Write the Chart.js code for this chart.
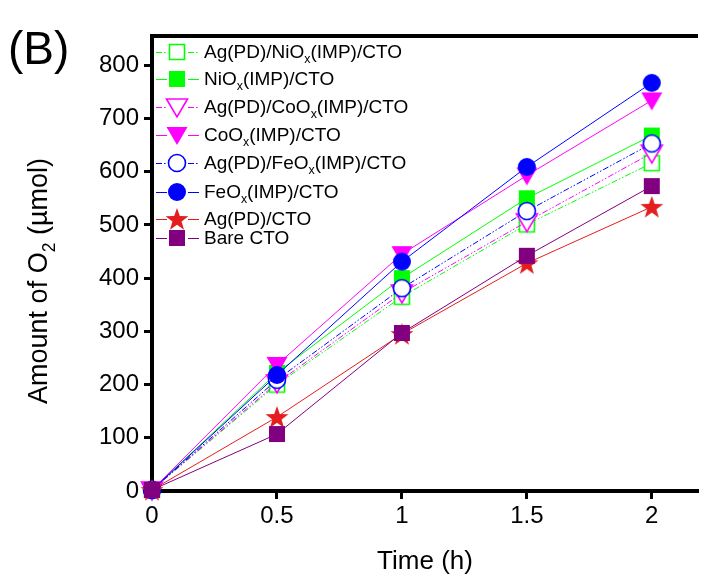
<!DOCTYPE html>
<html>
<head>
<meta charset="utf-8">
<script src="https://cdn.jsdelivr.net/npm/chart.js@4.4.1/dist/chart.umd.min.js"></script>
<style>
  html, body { margin: 0; padding: 0; background: #fff; }
</style>
</head>
<body>
<canvas id="chart" width="708" height="576"></canvas>
<script>
// time points (h)
const times = [0, 0.5, 1, 1.5, 2];

// amount of O2 (umol)
const agNiOx = [2, 200, 365, 501, 616];
const niOx   = [2, 222, 400, 550, 668];
const agCoOx = [2, 203, 372, 506, 635];
const coOx   = [2, 237, 445, 593, 734];
const agFeOx = [2, 209, 381, 526, 653];
const feOx   = [2, 218, 431, 609, 767];
const agCto  = [2, 139, 295, 428, 534];
const bare   = [2, 107, 297, 442, 573];

// names, "_x" means subscript x
const names = [
  'Ag(PD)/NiO_x(IMP)/CTO',
  'NiO_x(IMP)/CTO',
  'Ag(PD)/CoO_x(IMP)/CTO',
  'CoO_x(IMP)/CTO',
  'Ag(PD)/FeO_x(IMP)/CTO',
  'FeO_x(IMP)/CTO',
  'Ag(PD)/CTO',
  'Bare CTO'
];

const xTicks = [0, 0.5, 1, 1.5, 2];
const yTicks = [0, 100, 200, 300, 400, 500, 600, 700, 800];

const GREEN = '#00ff00', MAG = '#ff00ff', BLUE = '#0000ff', RED = '#e41e1e', PURP = '#800080';

function marker(shape, fill, stroke) {
  const c = document.createElement('canvas');
  c.width = c.height = 26;
  const g = c.getContext('2d');
  g.translate(13, 13);
  g.fillStyle = fill;
  g.strokeStyle = stroke;
  g.lineWidth = 1.6;
  g.beginPath();
  if (shape === 'square') {
    if (fill === '#fff') g.rect(-7.5, -7.5, 15, 15);
    else g.rect(-8, -8, 16, 16);
  } else if (shape === 'circle') {
    g.arc(0, 0, fill === '#fff' ? 8.5 : 9, 0, Math.PI * 2);
  } else if (shape === 'down') {
    g.moveTo(-10.5, -8); g.lineTo(10.5, -8); g.lineTo(0, 10); g.closePath();
  } else if (shape === 'star') {
    for (let i = 0; i < 10; i++) {
      const r = i % 2 ? 4.8 : 12;
      const a = -Math.PI / 2 + i * Math.PI / 5;
      g.lineTo(r * Math.cos(a), r * Math.sin(a) + 1);
    }
    g.closePath();
  }
  g.fill();
  if (fill === '#fff') g.stroke();
  return c;
}

const dd = [6, 2, 1.5, 2, 1.5, 2];
const styles = [
  { color: GREEN, mk: marker('square', '#fff', GREEN), dash: dd },
  { color: GREEN, mk: marker('square', GREEN, GREEN), dash: [] },
  { color: MAG,   mk: marker('down', '#fff', MAG), dash: dd },
  { color: MAG,   mk: marker('down', MAG, MAG), dash: [] },
  { color: BLUE,  mk: marker('circle', '#fff', BLUE), dash: dd },
  { color: BLUE,  mk: marker('circle', BLUE, BLUE), dash: [] },
  { color: RED,   mk: marker('star', RED, RED), dash: [] },
  { color: PURP,  mk: marker('square', PURP, PURP), dash: [] }
];
const seriesData = [agNiOx, niOx, agCoOx, coOx, agFeOx, feOx, agCto, bare];

const datasets = seriesData.map((vals, i) => ({
  label: names[i],
  data: vals.map((v, j) => ({ x: times[j], y: v })),
  borderColor: styles[i].color,
  borderWidth: 1,
  borderDash: styles[i].dash,
  pointStyle: styles[i].mk,
  pointRadius: 9,
  pointHoverRadius: 9,
  fill: false,
  tension: 0,
  clip: false,
  order: 7 - i
}));

const FONT = '"Liberation Sans", Arial, sans-serif';

function richText(ctx, text, x, y, size, align) {
  const parts = text.split(/_(\w)/);
  let w = 0;
  const subSize = size * 0.65;
  parts.forEach((p, k) => {
    ctx.font = (k % 2 ? subSize : size) + 'px ' + FONT;
    w += ctx.measureText(p).width;
  });
  let cx = align === 'center' ? x - w / 2 : x;
  ctx.textAlign = 'left';
  ctx.textBaseline = 'alphabetic';
  parts.forEach((p, k) => {
    if (k % 2) {
      ctx.font = subSize + 'px ' + FONT;
      ctx.fillText(p, cx, y + size * 0.28);
    } else {
      ctx.font = size + 'px ' + FONT;
      ctx.fillText(p, cx, y);
    }
    cx += ctx.measureText(p).width;
  });
}

const decor = {
  id: 'decor',
  afterDraw(chart) {
    const ctx = chart.ctx;
    const a = chart.chartArea;
    ctx.save();
    ctx.fillStyle = '#000';
    // top frame line
    ctx.fillRect(a.left - 2, a.top - 2, a.right - a.left + 2, 4);

    // legend
    const rows = [52, 79, 107, 135, 163, 192, 219, 238];
    names.forEach((n, i) => {
      const y = rows[i];
      ctx.strokeStyle = styles[i].color;
      ctx.lineWidth = 1;
      ctx.setLineDash(styles[i].dash);
      ctx.beginPath();
      ctx.moveTo(156, y + 0.5); ctx.lineTo(167, y + 0.5);
      ctx.moveTo(188, y + 0.5); ctx.lineTo(199, y + 0.5);
      ctx.stroke();
      ctx.setLineDash([]);
      ctx.drawImage(styles[i].mk, 177 - 13, y - 13);
      ctx.fillStyle = '#000';
      richText(ctx, n, 204, y + 6, 19, 'left');
    });

    // axis titles
    ctx.fillStyle = '#000';
    richText(ctx, 'Time (h)', 425, 569, 26, 'center');
    ctx.translate(47, 281);
    ctx.rotate(-Math.PI / 2);
    richText(ctx, 'Amount of O_2 (\u00b5mol)', 0, 0, 27, 'center');
    ctx.restore();

    ctx.save();
    ctx.fillStyle = '#000';
    ctx.font = '46px ' + FONT;
    ctx.textBaseline = 'alphabetic';
    ctx.fillText('(B)', 8, 64);
    ctx.restore();
  }
};

new Chart(document.getElementById('chart').getContext('2d'), {
  type: 'line',
  data: { datasets: datasets },
  options: {
    responsive: false,
    animation: false,
    events: [],
    layout: { padding: { top: 36, right: 0, left: 0, bottom: 0 } },
    plugins: { legend: { display: false }, tooltip: { enabled: false } },
    scales: {
      x: {
        type: 'linear',
        min: 0,
        max: 2.185,
        afterBuildTicks: s => { s.ticks = xTicks.map(v => ({ value: v })); },
        afterFit: s => { s.height = 85; },
        ticks: {
          color: '#000',
          font: { family: FONT, size: 24 },
          padding: 3,
          maxRotation: 0,
          callback: v => String(v)
        },
        grid: { drawOnChartArea: false, drawTicks: true, tickLength: 8, tickWidth: 3, color: '#000' },
        border: { display: true, width: 4, color: '#000' }
      },
      y: {
        type: 'linear',
        min: 0,
        max: 855,
        afterBuildTicks: s => { s.ticks = yTicks.map(v => ({ value: v })); },
        afterFit: s => { s.width = 152; },
        ticks: {
          color: '#000',
          font: { family: FONT, size: 24 },
          padding: 5,
          callback: v => String(v)
        },
        grid: { drawOnChartArea: false, drawTicks: true, tickLength: 8, tickWidth: 3, color: '#000' },
        border: { display: true, width: 4, color: '#000' }
      }
    }
  },
  plugins: [decor]
});
</script>
</body>
</html>
